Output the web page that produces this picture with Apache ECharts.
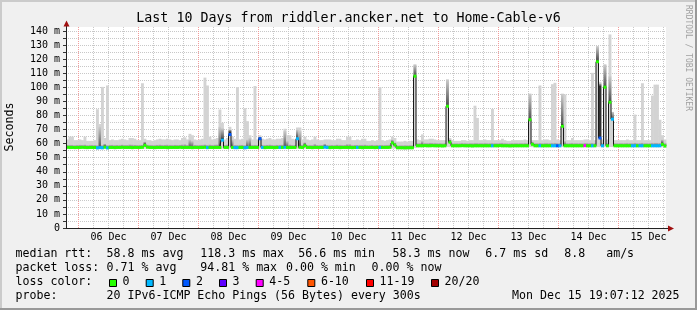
<!DOCTYPE html>
<html><head><meta charset="utf-8">
<script src="https://cdn.jsdelivr.net/npm/echarts@6/dist/echarts.min.js"></script>
<style>html,body{margin:0;padding:0;background:#f0f0f0}#c{width:697px;height:310px}</style>
</head><body><div id="c"></div>
<script>
// ---------- data (hourly bins starting Dec 5 19:00; 24 values per row) ----------
const dayLabels = ['06 Dec','07 Dec','08 Dec','09 Dec','10 Dec','11 Dec','12 Dec','13 Dec','14 Dec','15 Dec'];

// median rtt (ms)
const medRtt = [
57.4,57.3,57.3,57.2,57.3,57.3,57.4,57.3,57.2,57.3,57.3,57.3,57.0,57.2,57.1,57.5,57.0,57.3,57.3,57.2,57.3,57.3,57.4,57.3,
57.3,57.3,57.2,57.3,57.3,57.3,57.4,58.8,57.5,57.3,57.3,57.2,57.3,57.3,57.3,57.3,57.2,57.3,57.3,57.3,57.3,57.4,57.3,57.3,
57.3,57.3,57.2,57.3,57.3,57.3,57.3,57.4,57.2,57.3,57.3,57.3,57.3,57.3,62.5,57.3,57.3,66.5,57.3,57.2,57.2,57.3,57.3,57.1,
57.3,57.3,57.3,57.3,57.3,63.5,57.3,57.2,57.3,57.3,57.3,57.2,57.3,57.3,57.3,57.4,57.3,57.3,57.3,57.3,63.5,57.4,57.3,58.5,
57.3,57.3,57.2,57.3,57.3,57.3,57.3,57.5,57.3,57.2,57.3,57.3,57.3,57.2,57.3,57.3,57.3,57.3,57.2,57.3,57.3,57.3,57.2,57.3,
57.3,57.3,57.3,57.2,57.3,57.3,57.3,57.3,57.3,57.4,60.5,59.0,57.1,57.1,57.1,57.0,57.1,57.1,57.1,108.0,58.5,58.5,58.5,58.6,
58.5,58.5,58.6,58.5,58.5,58.5,58.4,58.5,86.6,61.0,58.5,58.5,58.5,58.5,58.6,58.5,58.5,58.5,58.4,58.5,58.5,58.5,58.5,58.5,
58.5,58.5,58.5,58.5,58.5,58.6,58.5,58.5,58.5,58.4,58.5,58.5,58.5,58.5,58.5,58.5,58.5,77.0,59.5,58.5,58.5,58.5,58.5,58.5,
58.5,58.5,58.5,58.5,58.5,58.5,72.4,58.5,58.5,58.5,58.5,58.5,58.5,58.5,58.5,58.6,58.5,58.5,58.5,58.5,118.3,64.0,58.5,100.2,
58.5,89.5,77.4,58.5,58.5,58.5,58.5,58.5,58.5,58.5,58.5,58.5,58.5,58.5,58.5,58.5,58.5,58.5,58.5,58.5,58.5,58.5,59.5,58.3
];
// lowest ping (ms)
const minRtt = [
56.2,56.1,56.2,56.2,56.3,56.2,56.2,56.1,56.2,56.2,56.2,56.2,56.0,56.1,56.0,56.3,56.0,56.2,56.2,56.1,56.2,56.2,56.3,56.2,
56.2,56.2,56.1,56.2,56.2,56.2,56.3,56.4,56.3,56.2,56.2,56.1,56.2,56.2,56.2,56.2,56.1,56.2,56.2,56.2,56.2,56.3,56.2,56.2,
56.2,56.2,56.1,56.2,56.2,56.2,56.2,56.3,56.1,56.2,56.2,56.2,56.2,56.2,56.4,56.2,56.2,56.5,56.2,56.1,56.1,56.2,56.2,56.0,
56.2,56.2,56.2,56.2,56.2,56.4,56.2,56.1,56.2,56.2,56.2,56.1,56.2,56.2,56.2,56.3,56.2,56.2,56.2,56.2,56.4,56.3,56.2,56.4,
56.2,56.2,56.1,56.2,56.2,56.2,56.2,56.4,56.2,56.1,56.2,56.2,56.2,56.1,56.2,56.2,56.2,56.2,56.1,56.2,56.2,56.2,56.1,56.2,
56.2,56.2,56.2,56.1,56.2,56.2,56.2,56.2,56.2,56.3,56.5,56.4,56.0,56.0,56.0,55.9,56.0,56.0,56.0,57.0,57.4,57.4,57.4,57.5,
57.4,57.4,57.5,57.4,57.4,57.4,57.3,57.4,57.6,57.5,57.4,57.4,57.4,57.4,57.5,57.4,57.4,57.4,57.3,57.4,57.4,57.4,57.4,57.4,
57.4,57.4,57.4,57.4,57.4,57.5,57.4,57.4,57.4,57.3,57.4,57.4,57.4,57.4,57.4,57.4,57.4,57.6,57.5,57.4,57.4,57.4,57.4,57.4,
57.4,57.4,57.4,57.4,57.4,57.4,57.6,57.4,57.4,57.4,57.4,57.4,57.4,57.4,57.4,57.5,57.4,57.4,57.4,57.4,57.6,57.5,57.4,57.6,
57.4,57.6,57.6,57.4,57.4,57.4,57.4,57.4,57.4,57.4,57.4,57.4,57.4,57.4,57.4,57.4,57.4,57.4,57.4,57.4,57.4,57.4,57.5,57.3
];
// top of the dense (dark) smoke (ms)
const denseRtt = [
57.4,57.3,57.3,57.2,57.3,57.3,57.4,57.3,57.2,57.3,57.3,57.3,57.0,57.2,57.1,58.5,57.0,57.3,57.3,57.2,57.3,57.3,57.4,57.3,
57.3,57.3,57.2,57.3,57.3,57.3,57.4,59.8,57.5,57.3,57.3,57.2,57.3,57.3,57.3,57.3,57.2,57.3,57.3,57.3,57.3,57.4,57.3,57.3,
57.3,57.3,57.2,57.3,57.3,57.3,57.3,57.4,57.2,57.3,57.3,57.3,57.3,57.3,64.0,57.3,57.3,68.8,57.3,57.2,57.2,57.3,57.3,57.1,
57.3,57.3,57.3,57.3,57.3,64.3,57.3,57.2,57.3,57.3,57.3,57.2,57.3,57.3,57.3,57.4,57.3,57.3,57.3,57.3,64.5,57.4,57.3,59.5,
57.3,57.3,57.2,57.3,57.3,57.3,57.3,58.3,57.3,57.2,57.3,57.3,57.3,57.2,57.3,57.3,57.3,57.3,57.2,57.3,57.3,57.3,57.2,57.3,
57.3,57.3,57.3,57.2,57.3,57.3,57.3,57.3,57.3,57.4,61.0,59.5,57.1,57.1,57.1,57.0,57.1,57.1,57.1,109.0,58.5,58.5,58.5,58.6,
58.5,58.5,58.6,58.5,58.5,58.5,58.4,58.5,88.0,62.0,58.5,58.5,58.5,58.5,58.6,58.5,58.5,58.5,58.4,58.5,58.5,58.5,58.5,58.5,
58.5,58.5,58.5,58.5,58.5,58.6,58.5,58.5,58.5,58.4,58.5,58.5,58.5,58.5,58.5,58.5,58.5,78.0,60.0,58.5,58.5,58.5,58.5,58.5,
58.5,58.5,58.5,58.5,58.5,58.5,74.0,58.5,58.5,58.5,58.5,58.5,58.5,58.5,58.5,58.6,58.5,58.5,58.5,58.5,120.0,101.4,58.5,101.0,
58.5,91.0,78.0,58.5,58.5,58.5,58.5,58.5,58.5,58.5,58.5,58.5,58.5,58.5,58.5,58.5,58.5,58.5,58.5,58.5,58.5,58.5,60.5,58.3
];
// top of the shaded (graded) smoke (ms)
const midRtt = [
59.2,59.3,59.3,59.1,59.2,59.4,59.2,59.5,59.1,59.2,59.3,59.2,59.0,72.0,59.1,60.0,59.0,59.3,59.4,59.2,59.3,59.2,59.5,59.3,
59.3,59.6,59.5,59.4,59.2,59.3,59.4,61.5,59.5,59.3,59.2,59.2,59.4,59.5,59.3,59.4,59.5,59.3,59.2,59.4,59.3,59.3,59.6,59.7,
59.3,63.0,62.0,59.4,59.2,59.3,59.4,59.6,59.2,59.5,59.3,59.5,59.6,72.0,71.0,59.3,59.6,70.0,63.0,59.3,59.2,59.3,59.4,59.1,
63.0,64.0,59.3,59.4,59.3,65.0,59.4,59.2,59.4,59.5,59.3,59.2,59.4,59.4,59.5,69.0,62.0,59.6,59.3,59.3,70.0,69.0,59.4,61.0,
59.3,59.2,59.2,60.0,59.3,59.2,59.3,60.0,59.3,59.2,59.3,59.2,59.5,59.4,59.2,59.3,59.8,59.8,59.2,59.3,59.3,59.3,59.4,59.5,
59.2,59.2,59.4,59.2,59.3,59.3,59.3,59.2,59.3,59.5,63.0,61.0,59.0,59.0,59.0,59.1,59.0,59.1,59.1,116.3,60.5,60.5,62.0,60.6,
60.6,60.8,60.7,60.6,60.5,60.5,60.4,60.5,105.6,63.0,60.5,60.4,60.4,60.4,60.6,60.5,60.4,60.5,60.5,60.6,60.6,60.5,60.5,60.6,
60.5,60.5,60.6,60.5,60.5,60.6,60.8,60.5,60.4,60.4,60.5,60.5,60.5,60.5,60.5,60.6,60.5,95.5,61.5,60.5,60.5,60.6,60.5,60.6,
60.6,60.5,60.7,60.8,60.6,60.5,95.4,62.0,60.5,60.5,60.7,60.5,60.5,60.5,60.5,60.6,60.6,60.5,60.7,60.5,129.3,103.0,60.6,116.3,
60.6,108.0,82.6,60.5,60.5,60.5,60.5,60.5,60.6,60.5,60.5,60.8,60.5,60.5,60.8,60.5,60.5,60.5,60.8,60.8,60.8,60.7,63.0,60.6
];
// highest ping (ms)
const maxRtt = [
63,65,65,62.5,62.5,63,62.5,65,62,62,62,62.5,84.5,74,100.4,64,101.4,62.5,63,62.5,62.5,63,63.5,63,
62.5,64,64,63.5,62.5,62.5,103,63.5,62.5,62.5,62,62.5,63,63.5,63,63,63.5,63,62.5,63,63,62.5,64,64.5,
63,67,66,63,62.5,63,63.5,107,101.4,65,63,63.5,64,84.3,74.8,63,64,72,65,63.5,100.2,63,63.5,85.3,
76,66,63,101,63,66,63.5,63,63.5,64,63,63,63.5,63.5,64,70.6,66,66,63.5,63,71.5,71.5,63,65,
63,62.5,63,65,63,62.5,62.5,63,63,63,62.5,62.5,63.5,63.5,62.5,62.5,65,65,62.5,62.5,63,62.5,63.5,63.5,
62,62,62.5,62,62.5,100.2,62.5,62,62.5,63,65,64,61.5,61.5,61.5,62,61.5,62,62,116.3,63,62.5,66.6,63,
63,63.5,63.5,63,62.5,62.5,62.5,62.5,105.6,64,62.5,62,62,62,62.5,62.5,62,62.5,62.5,87,78.3,62.5,62.5,63,
62.5,62.5,84.7,62.5,62.5,62.5,63.5,62.5,62,62,62.5,62.5,62.5,62.5,62.5,63,62.5,95.5,62.5,62.5,62.5,101.4,62.5,63,
63,62.5,102.3,103.3,63,62.5,95.6,95,62.5,62.5,64,62.5,62.5,62.5,62.5,63,63,62.5,110.4,62.5,129.3,104,63,116.3,
63,137.7,82.6,62.5,62.5,62.5,62.5,62.5,63,62.5,62.5,80.7,62.5,62.5,103,62.5,62.5,62.5,94.2,102,102,77,66,63
];
// loss class index per bin (0:"0",1:"1",2:"2",3:"3",4:"4-5",5:"6-10",6:"11-19",7:"20/20")
const lossBin = [
0,0,0,0,0,0,0,0,0,0,0,0,1,1,1,0,1,0,0,0,0,0,0,0,
0,0,0,0,0,0,0,0,0,0,0,0,0,0,0,0,0,0,0,0,0,0,0,0,
0,0,0,0,0,0,0,0,1,0,0,0,0,0,1,0,0,2,0,1,1,0,0,1,
1,0,0,0,0,2,1,0,0,0,0,0,0,1,0,1,0,0,0,0,1,0,0,0,
0,0,0,0,0,0,0,1,1,0,0,0,0,0,0,0,0,0,0,0,1,0,0,0,
0,0,0,0,0,1,0,0,0,0,0,0,0,0,0,0,0,0,0,0,0,0,0,0,
0,0,0,0,0,0,0,0,0,0,0,0,0,0,0,0,0,0,0,0,0,0,0,0,
0,0,1,0,0,0,0,0,0,0,0,0,0,0,0,0,0,0,0,0,0,1,0,0,
0,0,1,1,2,1,0,0,0,0,0,0,0,0,0,4,0,0,1,0,0,2,1,0,
0,0,1,0,0,0,0,0,0,0,1,1,0,1,1,0,0,0,1,1,1,1,0,0
];
const lossLabels = ['0','1','2','3','4-5','6-10','11-19','20/20'];
const lossColors = ['#26ff00','#00b8ff','#0059ff','#5e00ff','#ff00ff','#ff5500','#ff0000','#a10000'];

const titleText = 'Last 10 Days from riddler.ancker.net to Home-Cable-v6';
const rttStats = ['median rtt:', '58.8 ms avg', '118.3 ms max', '56.6 ms min', '58.3 ms now', '6.7 ms sd', '8.8   am/s'];
const lossStats = ['packet loss:', '0.71 % avg', '94.81 % max', '0.00 % min', '0.00 % now'];
const probeText = ['probe:', '20 IPv6-ICMP Echo Pings (56 Bytes) every 300s', 'Mon Dec 15 19:07:12 2025'];

// ---------- chart ----------
const FONT = '"DejaVu Sans Mono", monospace';
const GL = 66, GT = 27, GW = 600, GH = 201;
const chart = echarts.init(document.getElementById('c'), null, {renderer: 'canvas', width: 697, height: 310});

const dayNoon = dayLabels.map((d, k) => 17 + 24 * k);
const gridMarks = [];
for (let h = 5; h < 240; h += 6) gridMarks.push([h, (h - 5) % 24 === 0 ? 1 : 0]);

const smokeData = medRtt.map((m, i) => [i, minRtt[i], m, denseRtt[i], midRtt[i], maxRtt[i]]);
const medData = medRtt.map((m, i) => [i, m, lossBin[i]]);
const lineData = medRtt.map((m, i) => [i + 0.5, m]);

function colX(api, i) {
  const xa = api.coord([i, 0])[0], xb = api.coord([i + 1, 0])[0];
  return [xa, xb - xa + 0.4];
}

const option = {
  animation: false,
  backgroundColor: '#f0f0f0',
  grid: {left: GL, top: GT, width: GW, height: GH, show: true, backgroundColor: '#ffffff', borderWidth: 0},
  xAxis: {
    type: 'value', min: 0, max: 240,
    axisLine: {show: false}, axisTick: {show: false}, splitLine: {show: false},
    axisLabel: {customValues: dayNoon, formatter: v => dayLabels[Math.round((v - 17) / 24)] || '',
      fontFamily: FONT, fontSize: 10, color: '#000', margin: 4}
  },
  yAxis: {
    type: 'value', min: 0, max: 143, interval: 5,
    axisLine: {show: false},
    axisTick: {show: true, length: 3, lineStyle: {color: '#333'}},
    axisLabel: {formatter: v => (v % 10 === 0 ? (v === 0 ? '0' : v + ' m') : ''), showMaxLabel: false,
      fontFamily: FONT, fontSize: 10, color: '#000', margin: 6},
    splitLine: {show: true, showMaxLine: false, lineStyle: {color: '#c8c8c8', type: [1, 1], width: 1}}
  },
  series: [
    {
      type: 'custom', z: 1, silent: true, data: gridMarks,
      renderItem: (p, api) => {
        const x = api.coord([api.value(0), 0])[0];
        return {type: 'line', shape: {x1: x, y1: p.coordSys.y, x2: x, y2: p.coordSys.y + p.coordSys.height},
          style: {stroke: api.value(1) ? '#f29c9c' : '#c8c8c8', lineDash: [1, 1], lineWidth: 1}};
      }
    },
    {
      type: 'custom', z: 2, silent: true, data: smokeData,
      renderItem: (p, api) => {
        const i = api.value(0);
        const [x, w] = colX(api, i);
        const Y = v => api.coord([i, v])[1];
        const lo = api.value(1), med = api.value(2), dn = api.value(3), mid = api.value(4), hi = api.value(5);
        const kids = [{type: 'rect', shape: {x: x, y: Y(hi), width: w, height: Y(lo) - Y(hi)}, style: {fill: '#d3d3d3'}}];
        if (mid > dn) kids.push({type: 'rect', shape: {x: x, y: Y(mid), width: w, height: Y(dn) - Y(mid)},
          style: {fill: new echarts.graphic.LinearGradient(0, 0, 0, 1, [{offset: 0, color: '#cccccc'}, {offset: 1, color: '#555555'}])}});
        if (dn > med) kids.push({type: 'rect', shape: {x: x, y: Y(dn), width: w, height: Y(med) - Y(dn)}, style: {fill: '#303030'}});
        return {type: 'group', children: kids};
      }
    },
    {
      type: 'line', z: 3, silent: true, data: lineData, step: 'middle', showSymbol: false,
      lineStyle: {color: '#181818', width: 1}
    },
    {
      type: 'custom', z: 4, silent: true, data: medData,
      renderItem: (p, api) => {
        const i = api.value(0);
        const [x, w] = colX(api, i);
        const y = api.coord([i, api.value(1)])[1];
        return {type: 'rect', shape: {x: x, y: y - 1.5, width: w, height: 3}, style: {fill: lossColors[api.value(2)]}};
      }
    }
  ]
};
chart.setOption(option);

// ---------- frame, axes, texts ----------
const x0 = GL + 0.5, yB = GT + GH + 0.5;
const g = [];
g.push({type: 'rect', z: 100, shape: {x: 0, y: 0, width: 697, height: 2}, style: {fill: '#cbcbcb'}});
g.push({type: 'rect', z: 100, shape: {x: 0, y: 0, width: 2, height: 310}, style: {fill: '#cbcbcb'}});
g.push({type: 'rect', z: 100, shape: {x: 0, y: 308, width: 697, height: 2}, style: {fill: '#999999'}});
g.push({type: 'rect', z: 100, shape: {x: 695, y: 0, width: 2, height: 310}, style: {fill: '#999999'}});
g.push({type: 'line', z: 100, shape: {x1: x0, y1: yB, x2: x0, y2: GT - 3}, style: {stroke: '#222', lineWidth: 1}});
g.push({type: 'line', z: 100, shape: {x1: GL, y1: yB, x2: GL + GW + 3, y2: yB}, style: {stroke: '#222', lineWidth: 1}});
g.push({type: 'polygon', z: 101, shape: {points: [[x0, 20.5], [x0 - 3, 26.5], [x0 + 3, 26.5]]}, style: {fill: '#a01010'}});
g.push({type: 'polygon', z: 101, shape: {points: [[674, yB], [668, yB - 3], [668, yB + 3]]}, style: {fill: '#a01010'}});

function txt(x, y, s, size, extra) {
  return Object.assign({type: 'text', z: 100, x: x, y: y,
    style: Object.assign({text: s, fontFamily: FONT, fontSize: size, fill: '#000', align: 'left', verticalAlign: 'middle'}, extra || {})});
}
g.push(txt(348.5, 18.5, titleText, 13.3, {align: 'center'}));
g.push(Object.assign(txt(10, 127, 'Seconds', 11.6, {align: 'center'}), {rotation: Math.PI / 2}));
g.push(Object.assign(txt(688, 5, 'RRDTOOL / TOBI OETIKER', 8, {fill: '#a0a0a0'}), {rotation: -Math.PI / 2}));

const FS = 11.6;
const rttX = [15.5, 106.6, 200.3, 298.3, 392.6, 485.3, 564.3];
rttStats.forEach((s, k) => g.push(txt(rttX[k], 254.3, s, FS)));
const lossX = [15.5, 106.6, 200.3, 286, 371.6];
lossStats.forEach((s, k) => g.push(txt(lossX[k], 268.2, s, FS)));
g.push(txt(15.5, 282.3, 'loss color:', FS));
const sqX = [109, 145.7, 182.3, 219, 255.7, 307.3, 366, 431];
lossLabels.forEach((s, k) => {
  g.push({type: 'rect', z: 100, shape: {x: sqX[k] + 0.5, y: 279.5, width: 7, height: 7}, style: {fill: lossColors[k], stroke: '#000', lineWidth: 1}});
  g.push(txt(sqX[k] + 13.6, 282.3, s, FS));
});
const probeX = [15.5, 106.6, 512];
probeText.forEach((s, k) => g.push(txt(probeX[k], 296.2, s, FS)));

chart.setOption({graphic: g});
</script>
</body></html>
